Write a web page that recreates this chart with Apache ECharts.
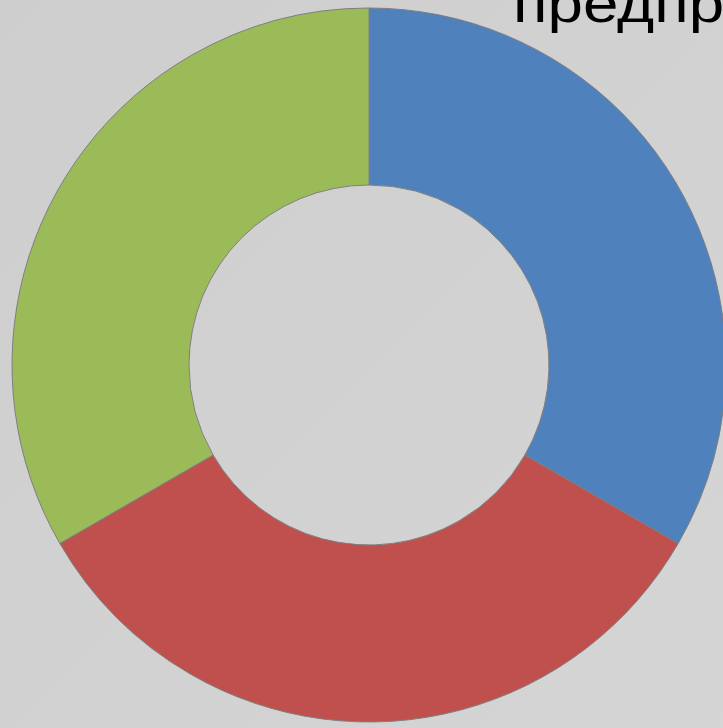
<!DOCTYPE html>
<html><head><meta charset="utf-8">
<style>html,body{margin:0;padding:0;background:#d0d0d0;}#c{width:723px;height:728px;}</style>
<script src="https://cdn.jsdelivr.net/npm/echarts@6/dist/echarts.min.js"></script>
</head><body><div id="c"></div>
<script>
var categories = ['Категория 1', 'Категория 2', 'Категория 3'];
var values = [1, 1, 1];
var colors = ['#4f81bd', '#c0504d', '#9bbb59'];
var titleText = 'предприятия';

var chart = echarts.init(document.getElementById('c'), null, {renderer: 'canvas'});
chart.setOption({
  backgroundColor: {
    type: 'linear', x: 0, y: 0, x2: 1, y2: 1,
    colorStops: [{offset: 0, color: '#cecece'}, {offset: 1, color: '#d5d5d5'}]
  },
  animation: false,
  graphic: [{
    type: 'text', x: 513, y: -20, scaleX: 1.18, scaleY: 1,
    style: {text: titleText, font: '54px "Liberation Sans", Arial, sans-serif', fill: '#000', textAlign: 'left', textVerticalAlign: 'top'}
  }],
  series: [{
    type: 'pie',
    center: [369, 365],
    radius: [180, 357],
    startAngle: 90,
    clockwise: true,
    label: {show: false},
    labelLine: {show: false},
    emphasis: {disabled: true},
    itemStyle: {borderColor: '#7f7f7f', borderWidth: 1},
    data: categories.map(function (n, i) {
      return {name: n, value: values[i], itemStyle: {color: colors[i]}};
    })
  }]
});
</script></body></html>
